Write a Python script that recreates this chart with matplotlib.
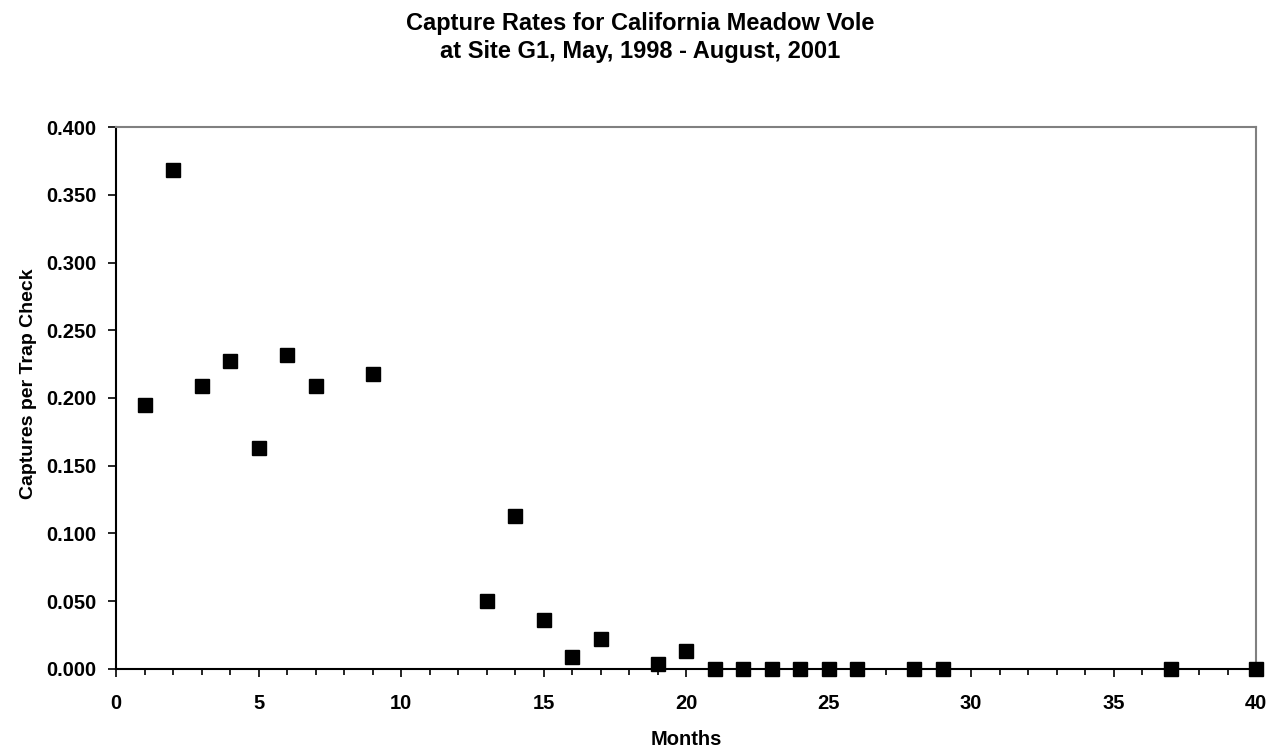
import numpy as np
import matplotlib
matplotlib.use("Agg")
import matplotlib.pyplot as plt
from matplotlib.ticker import MultipleLocator

plt.rcParams['font.family'] = ['Liberation Sans', 'DejaVu Sans']
plt.rcParams['font.weight'] = 'bold'

months = [1, 2, 3, 4, 5, 6, 7, 9, 13, 14, 15, 16, 17, 19, 20,
          21, 22, 23, 24, 25, 26, 28, 29, 37, 40]
rates = [0.195, 0.368, 0.209, 0.227, 0.163, 0.232, 0.209, 0.218, 0.050, 0.113,
         0.036, 0.009, 0.022, 0.004, 0.013,
         0.0, 0.0, 0.0, 0.0, 0.0, 0.0, 0.0, 0.0, 0.0, 0.0]
y_ticks = [0.0, 0.05, 0.10, 0.15, 0.20, 0.25, 0.30, 0.35, 0.40]

fig = plt.figure(figsize=(12.81, 7.53), dpi=100)
ax = fig.add_axes([0.0906, 0.1116, 0.8899, 0.7197])

ax.plot(months, rates, linestyle='none', marker='s', markersize=10.5,
        color='black', clip_on=False, zorder=5)

ax.xaxis.set_major_locator(MultipleLocator(5))
ax.xaxis.set_minor_locator(MultipleLocator(1))
ax.set_yticks(y_ticks)
ax.set_yticklabels([f'{v:.3f}' for v in y_ticks])
ax.set_xlim(0, 40)
ax.set_ylim(0, 0.4)

for s in ['top', 'right']:
    ax.spines[s].set_color('#808080')
    ax.spines[s].set_linewidth(1.5)
for s in ['left', 'bottom']:
    ax.spines[s].set_color('black')
    ax.spines[s].set_linewidth(1.5)

ax.tick_params(axis='both', which='major', direction='out', length=6, width=1.2,
               labelsize=14.5)
ax.tick_params(axis='y', which='major', pad=8)
ax.tick_params(axis='x', which='major', pad=12)
ax.tick_params(axis='x', which='minor', direction='out', length=4, width=1.2)

for lbl in ax.get_xticklabels() + ax.get_yticklabels():
    lbl.set_fontweight('bold')

ax.set_xlabel('Months', fontsize=14.5, fontweight='bold')
ax.xaxis.set_label_coords(0.5, -0.1125)
ax.set_ylabel('Captures per Trap Check', fontsize=14, fontweight='bold')
ax.yaxis.set_label_coords(-0.0693, 0.526)

fig.text(0.5, 1 - 30 / 753, 'Capture Rates for California Meadow Vole',
         ha='center', va='baseline', fontsize=17, fontweight='bold')
fig.text(0.5, 1 - 58 / 753, 'at Site G1, May, 1998 - August, 2001',
         ha='center', va='baseline', fontsize=17, fontweight='bold')

fig.savefig('out.png', dpi=100)
